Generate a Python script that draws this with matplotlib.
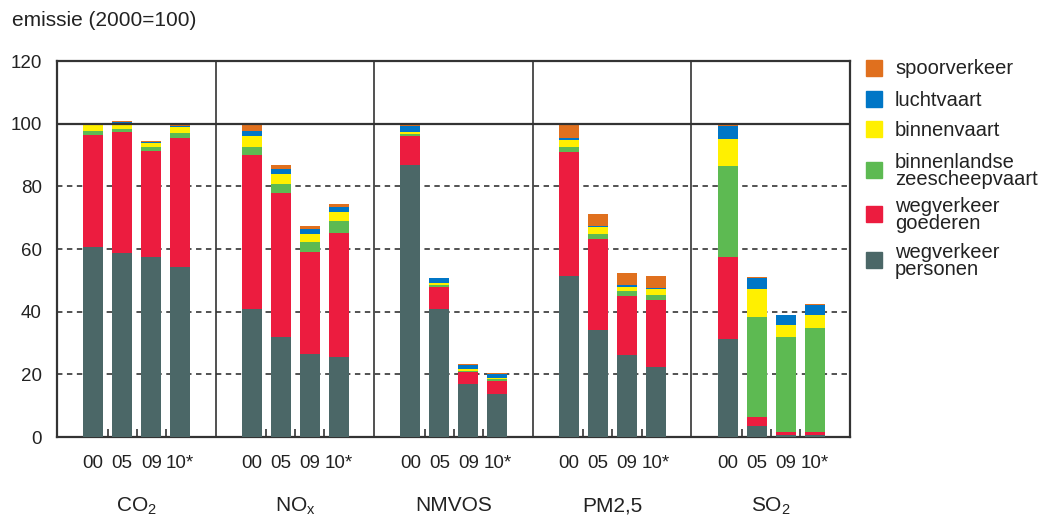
import matplotlib
matplotlib.use("Agg")
import matplotlib.pyplot as plt
from matplotlib.patches import Rectangle
import numpy as np

plt.rcParams['font.family'] = ['Liberation Sans', 'DejaVu Sans']
plt.rcParams['mathtext.fontset'] = 'custom'
plt.rcParams['mathtext.rm'] = 'Liberation Sans'

groups = [r'CO$_\mathregular{2}$', r'NO$_\mathregular{x}$', 'NMVOS', 'PM2,5', r'SO$_\mathregular{2}$']
years = ['00', '05', '09', '10*']

# values per layer: rows = groups, cols = years
wegverkeer_personen = [
    [60.7, 58.8, 57.5, 54.1],
    [40.7, 31.9, 26.6, 25.6],
    [86.9, 40.9, 17.0, 13.8],
    [51.5, 34.3, 26.2, 22.4],
    [31.3, 3.6, 0.6, 0.6],
]
wegverkeer_goederen = [
    [35.8, 38.6, 33.9, 41.4],
    [49.4, 46.1, 32.5, 39.6],
    [9.3, 7.0, 3.9, 4.2],
    [39.6, 29.0, 18.8, 21.4],
    [26.0, 2.9, 1.1, 1.1],
]
zeescheepvaart = [
    [1.3, 1.0, 1.3, 1.6],
    [2.5, 2.8, 3.2, 3.8],
    [0.6, 0.6, 0.3, 0.4],
    [1.6, 1.6, 1.6, 1.6],
    [29.3, 31.9, 30.2, 33.1],
]
binnenvaart = [
    [1.7, 1.9, 1.2, 1.7],
    [3.6, 3.2, 2.6, 2.9],
    [0.4, 0.5, 0.6, 0.4],
    [2.2, 2.2, 1.3, 1.9],
    [8.6, 8.9, 3.9, 4.2],
]
luchtvaart = [
    [0.1, 0.2, 0.3, 0.3],
    [1.6, 1.6, 1.6, 1.6],
    [2.2, 1.8, 1.3, 1.3],
    [0.6, 0.4, 0.6, 0.4],
    [4.2, 3.6, 3.0, 3.2],
]
spoorverkeer = [
    [0.5, 0.5, 0.4, 0.4],
    [2.3, 1.3, 0.9, 0.9],
    [0.7, 0.1, 0.1, 0.3],
    [4.6, 3.7, 3.9, 3.7],
    [0.2, 0.3, 0.2, 0.3],
]

layers = [
    ('wegverkeer\npersonen', wegverkeer_personen, '#4b6767'),
    ('wegverkeer\ngoederen', wegverkeer_goederen, '#ec1c3f'),
    ('binnenlandse\nzeescheepvaart', zeescheepvaart, '#5dba52'),
    ('binnenvaart', binnenvaart, '#fff000'),
    ('luchtvaart', luchtvaart, '#0076c6'),
    ('spoorverkeer', spoorverkeer, '#e0701e'),
]

W, H = 1039, 517
fig = plt.figure(figsize=(W / 100, H / 100), dpi=100)
ax = fig.add_axes([57 / W, 1 - 437 / H, (850 - 57) / W, (437 - 61) / H])

first_off = 0.228
spacing = 0.183
bw = 0.126

ng, ny = len(groups), len(years)
xs = np.array([[g + first_off + j * spacing for j in range(ny)] for g in range(ng)])

bottom = np.zeros((ng, ny))
for name, vals, col in layers:
    v = np.array(vals)
    ax.bar(xs.ravel(), v.ravel(), width=bw, bottom=bottom.ravel(), color=col,
           linewidth=0, zorder=3)
    bottom += v

ax.set_xlim(0, ng)
ax.set_ylim(0, 120)

# grid
for yv in [20, 40, 60, 80]:
    ax.axhline(yv, color='#444444', lw=1.3, ls=(0, (3, 2.5)), zorder=1)
ax.axhline(100, color='#333333', lw=1.6, zorder=4)
for g in range(1, ng):
    ax.axvline(g, color='#333333', lw=1.2, zorder=4)

for s in ax.spines.values():
    s.set_color('#333333')
    s.set_linewidth(1.6)

ax.set_yticks([0, 20, 40, 60, 80, 100, 120])
ax.tick_params(axis='y', length=0, pad=11, labelsize=13.5, colors='#222222')

# x major ticks: bar labels
ax.set_xticks(xs.ravel())
ax.set_xticklabels(years * ng)
ax.tick_params(axis='x', which='major', length=0, pad=13, labelsize=13.5, colors='#222222')
minor = [g + first_off + (j + 0.5) * spacing for g in range(ng) for j in range(ny - 1)]
ax.set_xticks(minor, minor=True)
ax.tick_params(axis='x', which='minor', direction='in', length=6, width=1.2, color='#333333')

for g, lab in enumerate(groups):
    ax.text(g + 0.5, -22, lab, ha='center', va='center', fontsize=15, color='#222222',
            transform=ax.transData, clip_on=False)

fig.text(12 / W, 1 - 20 / H, 'emissie (2000=100)', ha='left', va='center', fontsize=15, color='#222222')

# legend
leg = [
    ('spoorverkeer', '#e0701e', 68),
    ('luchtvaart', '#0076c6', 99),
    ('binnenvaart', '#fff000', 129),
    ('binnenlandse\nzeescheepvaart', '#5dba52', 170),
    ('wegverkeer\ngoederen', '#ec1c3f', 214),
    ('wegverkeer\npersonen', '#4b6767', 260),
]
for lab, col, yc in leg:
    fig.patches.append(Rectangle((866 / W, 1 - (yc + 8) / H), 16 / W, 16 / H,
                                 transform=fig.transFigure, color=col, figure=fig))
    fig.text(895 / W, 1 - (yc + 1) / H, lab, ha='left', va='center', fontsize=14.5,
             color='#222222', linespacing=0.9)

fig.savefig('out.png', dpi=100)
